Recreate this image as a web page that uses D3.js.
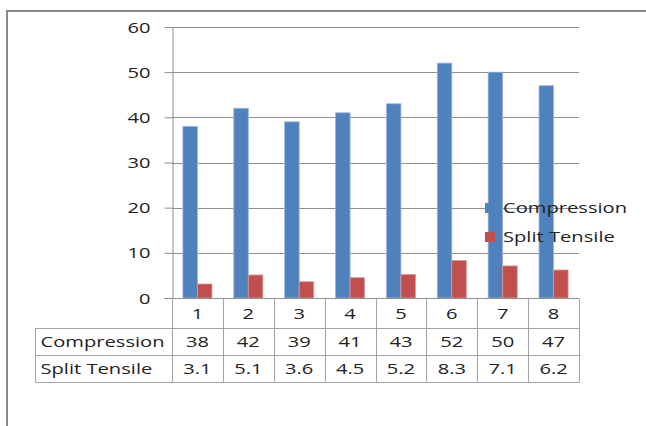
<!DOCTYPE html>
<html>
<head>
<meta charset="utf-8">
<script src="https://cdn.jsdelivr.net/npm/d3@7"></script>
<style>
  body { margin: 0; background: #fff; }
  svg { display: block; }
  text { font-family: 'Open Sans', sans-serif; font-size: 14px; fill: #222; }
</style>
</head>
<body>
<script>
// Strength results per mix
const categories   = ["1", "2", "3", "4", "5", "6", "7", "8"];
const seriesNames  = ["Compression", "Split Tensile"];
const compression  = [38, 42, 39, 41, 43, 52, 50, 47];
const splitTensile = [3.1, 5.1, 3.6, 4.5, 5.2, 8.3, 7.1, 6.2];
const yTicks       = [0, 10, 20, 30, 40, 50, 60];
const seriesColors = ["#4F81BD", "#C0504D"];
const seriesEdges  = ["#9DB6DA", "#DA9A98"];

const seriesValues = [compression, splitTensile];

const W = 646, H = 426;
const SX = 1.44;          // glyphs are drawn wide
const gridColor = "#8f8f8f";
const tableColor = "#a3a3a3";

const svg = d3.select("body").append("svg")
  .attr("width", W).attr("height", H);

// outer frame (top and left edges)
svg.append("path")
  .attr("d", `M7,${H} L7,11 L${W},11`)
  .attr("fill", "none")
  .attr("stroke", "#8a8a8a")
  .attr("stroke-width", 2);

const x = d3.scaleBand().domain(categories).range([172, 579]).padding(0);
const y = d3.scaleLinear().domain([0, 60]).range([298, 27]);
const bw = x.bandwidth();
const gapRatio = 1.5;
const inset = bw * (gapRatio / 2) / (2 + gapRatio);
const xs = d3.scaleBand().domain(seriesNames).range([inset, bw - inset]);

function label(g, px, py, txt, anchor) {
  return g.append("text")
    .attr("transform", `translate(${px},${py}) scale(${SX},1)`)
    .attr("text-anchor", anchor)
    .attr("dy", "0.36em")
    .text(txt);
}

// horizontal gridlines
svg.append("g").selectAll("line")
  .data(yTicks.filter(t => t > 0))
  .join("line")
  .attr("x1", 172).attr("x2", 579)
  .attr("y1", d => Math.round(y(d)) + 0.5)
  .attr("y2", d => Math.round(y(d)) + 0.5)
  .attr("stroke", gridColor);

// value axis
const yAxis = svg.append("g")
  .attr("transform", "translate(172.5,0)")
  .call(d3.axisLeft(y).tickValues(yTicks).tickSize(8).tickSizeOuter(0).tickPadding(0));
yAxis.select(".domain").attr("stroke", gridColor);
yAxis.selectAll(".tick line").attr("stroke", gridColor);
yAxis.selectAll(".tick text")
  .attr("x", null).attr("dy", null)
  .attr("transform", `translate(-22,0) scale(${SX},1)`)
  .attr("dy", "0.36em")
  .style("font-family", "'Open Sans', sans-serif")
  .style("font-size", "14px")
  .attr("fill", "#222");

// bars
const barG = svg.append("g");
seriesNames.forEach((name, si) => {
  barG.append("g").selectAll("rect")
    .data(seriesValues[si])
    .join("rect")
    .attr("x", (d, i) => x(categories[i]) + xs(name))
    .attr("width", xs.bandwidth())
    .attr("y", d => y(d))
    .attr("height", d => y(0) - y(d))
    .attr("fill", seriesColors[si])
    .attr("stroke", seriesEdges[si])
    .attr("stroke-width", 0.8);
});

// category axis line
svg.append("line")
  .attr("x1", 164).attr("x2", 579)
  .attr("y1", 298.5).attr("y2", 298.5)
  .attr("stroke", gridColor);

// data table
const rowTop = 298.5, row1 = 328.5, row2 = 355.5, row3 = 382.5;
const tableLeft = 35.5;
const tbl = svg.append("g").attr("stroke", tableColor).attr("fill", "none");
[row1, row2, row3].forEach(ry => {
  tbl.append("line").attr("x1", tableLeft).attr("x2", 579.5).attr("y1", ry).attr("y2", ry);
});
tbl.append("line").attr("x1", tableLeft).attr("x2", tableLeft).attr("y1", row1).attr("y2", row3);
categories.concat(["end"]).forEach((c, i) => {
  const vx = Math.round(i < categories.length ? x(c) : x.range()[1]) + 0.5;
  tbl.append("line").attr("x1", vx).attr("x2", vx).attr("y1", rowTop).attr("y2", row3);
});

const txt = svg.append("g");
categories.forEach(c => label(txt, x(c) + bw / 2, (rowTop + row1) / 2, c, "middle"));
seriesNames.forEach((name, si) => {
  const cy = si === 0 ? (row1 + row2) / 2 : (row2 + row3) / 2;
  label(txt, 40.5, cy, name, "start");
  seriesValues[si].forEach((v, i) => label(txt, x(categories[i]) + bw / 2, cy, String(v), "middle"));
});

// legend
const legend = svg.append("g");
seriesNames.forEach((name, si) => {
  const ly = 208 + si * 29;
  legend.append("rect")
    .attr("x", 485).attr("y", ly - 5)
    .attr("width", 10).attr("height", 10)
    .attr("fill", seriesColors[si]);
  label(legend, 503, ly, name, "start");
});
</script>
</body>
</html>
